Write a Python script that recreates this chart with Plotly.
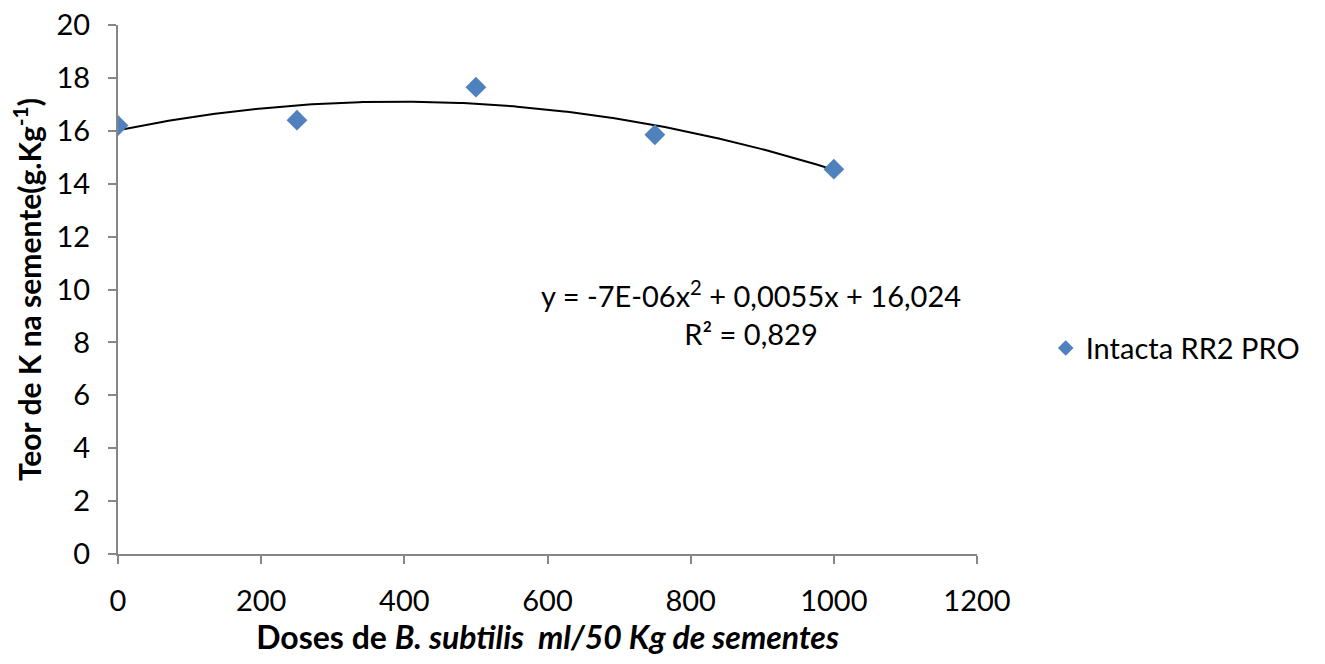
import numpy as np
import plotly.graph_objects as go

doses = [0, 250, 500, 750, 1000]
teor_k = [16.2, 16.4, 17.65, 15.85, 14.55]
series_name = "Intacta RR2 PRO"
trend_coef = [-7e-06, 0.0055, 16.024]  # a, b, c of y = a x^2 + b x + c
eq_text = "y = -7E-06x<sup>2</sup> + 0,0055x + 16,024<br>R² = 0,829"
x_ticks = [0, 200, 400, 600, 800, 1000, 1200]
y_ticks = [0, 2, 4, 6, 8, 10, 12, 14, 16, 18, 20]

FONT = "Lato, Carlito, Calibri, sans-serif"
AXIS_COLOR = "#868686"

xs = np.linspace(min(doses), max(doses), 200)
ys = np.polyval(trend_coef, xs)

fig = go.Figure()
fig.add_trace(go.Scatter(x=xs, y=ys, mode="lines", line=dict(color="black", width=2),
                         showlegend=False, hoverinfo="skip"))
fig.add_trace(go.Scatter(x=doses, y=teor_k, mode="markers", name=series_name,
                         marker=dict(symbol="diamond", size=16, color="#4F81BD")))

fig.add_annotation(x=884, y=9.1, xref="x", yref="y", text=eq_text, showarrow=False,
                   font=dict(family=FONT, size=29, color="black"), align="center")

fig.update_layout(
    width=1325, height=664,
    margin=dict(l=118, r=348, t=25, b=110),
    plot_bgcolor="white", paper_bgcolor="white",
    font=dict(family=FONT, size=29, color="black"),
    legend=dict(x=1.08, y=0.389, xanchor="left", yanchor="middle",
                font=dict(family=FONT, size=29), itemsizing="constant"),
    xaxis=dict(range=[0, 1200], tickvals=x_ticks, showgrid=False, zeroline=False,
               showline=True, linecolor=AXIS_COLOR, linewidth=2,
               ticks="outside", ticklen=8, tickcolor=AXIS_COLOR, tickwidth=2,
               ticklabelstandoff=12, automargin=False, ticklabeloverflow="allow",
               title=dict(text="<b>Doses de <i>B. subtilis  ml/50 Kg de sementes</i></b>",
                          font=dict(family=FONT, size=32), standoff=10)),
    yaxis=dict(range=[0, 20], tickvals=y_ticks, showgrid=False, zeroline=False,
               showline=True, linecolor=AXIS_COLOR, linewidth=2,
               ticks="outside", ticklen=8, tickcolor=AXIS_COLOR, tickwidth=2,
               ticklabelstandoff=12, automargin=False, ticklabeloverflow="allow",
               title=dict(text="<b>Teor de K na semente(g.Kg<sup>-1</sup>)</b>",
                          font=dict(family=FONT, size=30), standoff=6)),
)

fig.write_html(
    "out.html",
    config={"displayModeBar": False},
    post_script="document.body.style.margin='0';document.body.style.overflow='hidden';",
)
